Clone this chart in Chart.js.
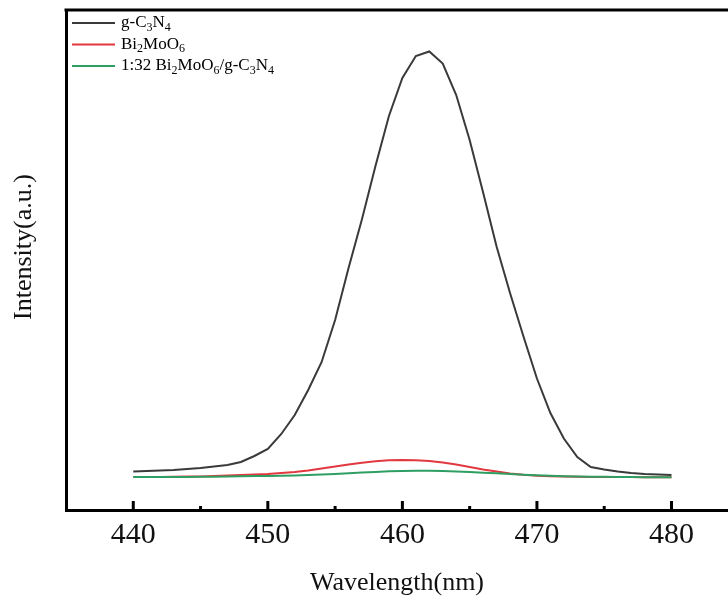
<!DOCTYPE html>
<html>
<head>
<meta charset="utf-8">
<script src="https://cdn.jsdelivr.net/npm/chart.js@4"></script>
<style>
  html, body { margin: 0; padding: 0; background: #fff; overflow: hidden; }
  #wrap { width: 728px; height: 599px; }
</style>
</head>
<body>
<div id="wrap"><canvas id="plChart" width="728" height="599"></canvas></div>
<script>
// --- data (PL emission, arbitrary units) ---
const wavelengths = [440, 441, 442, 443, 444, 445, 446, 447, 448, 449, 450, 451, 452, 453, 454, 455, 456, 457, 458, 459, 460,
                     461, 462, 463, 464, 465, 466, 467, 468, 469, 470, 471, 472, 473, 474, 475, 476, 477, 478, 479, 480];

const gC3N4 = [77, 78, 79, 80, 82, 84, 87, 90, 96, 108, 122, 152, 190, 240, 296, 380, 484, 582, 688, 788, 864,
               908, 917, 893, 830, 740, 635, 527, 434, 347, 263, 194, 143, 106, 86, 81, 77, 74, 72, 71, 70];

const bi2MoO6 = [66, 66, 66, 66.5, 67, 67, 68, 69, 70, 71, 72, 74, 76, 79, 83, 87, 91, 94.6, 97.4, 99.4, 100,
                 99.6, 98, 95, 91, 86, 81, 77, 73, 70.4, 68.4, 67.4, 66.8, 66.4, 66.2, 66, 65.8, 65.8, 65.6, 65.6, 65.6];

const composite = [66, 66, 66, 66, 66.2, 66.4, 66.6, 67, 67.4, 67.8, 68, 68.5, 69, 70, 71, 72, 73.5, 75, 76, 77.5, 78,
                   78.4, 78.4, 78, 77, 76, 74.5, 73.5, 72, 70.5, 69.4, 68.6, 67.6, 67, 66.6, 66.4, 66, 65.8, 65.6, 65.4, 65.4];

const seriesLabels = ['g-C_3N_4', 'Bi_2MoO_6', '1:32 Bi_2MoO_6/g-C_3N_4'];
const seriesColors = ['#3a3a3a', '#e2383f', '#2f9e62'];
const xTicks = [440, 450, 460, 470, 480];

const FONT = '"Liberation Serif", "Times New Roman", serif';

const toPoints = (ys) => wavelengths.map((w, i) => ({ x: w, y: ys[i] }));

// frame line on top, inward ticks on the bottom axis, y title
const framePlugin = {
    id: 'frame',
    afterDraw(chart) {
        const { ctx, chartArea, scales } = chart;
        ctx.save();
        ctx.strokeStyle = '#000';
        ctx.lineWidth = 3;
        ctx.beginPath();
        ctx.moveTo(chartArea.left - 1.5, chartArea.top);
        ctx.lineTo(chartArea.right, chartArea.top);
        ctx.stroke();

        for (let v = 440; v <= 480; v += 5) {
            const px = scales.x.getPixelForValue(v);
            const len = v % 10 === 0 ? 9 : 4;
            ctx.beginPath();
            ctx.moveTo(px, chartArea.bottom);
            ctx.lineTo(px, chartArea.bottom - len);
            ctx.stroke();
        }

        // y axis title sits a little above the middle of the axis
        ctx.translate(24, 247);
        ctx.rotate(-Math.PI / 2);
        ctx.fillStyle = '#111';
        ctx.font = `26px ${FONT}`;
        ctx.textAlign = 'center';
        ctx.textBaseline = 'middle';
        ctx.fillText('Intensity(a.u.)', 0, 0);
        ctx.restore();
    }
};

// legend with real subscripts ("_3" -> small 3)
const drawSubText = (ctx, text, x, y, size) => {
    const parts = text.split(/(_\d)/);
    parts.forEach(p => {
        if (!p) return;
        if (p[0] === '_') {
            ctx.font = `${Math.round(size * 0.68)}px ${FONT}`;
            ctx.fillText(p.slice(1), x, y + size * 0.28);
            x += ctx.measureText(p.slice(1)).width;
        } else {
            ctx.font = `${size}px ${FONT}`;
            ctx.fillText(p, x, y);
            x += ctx.measureText(p).width;
        }
    });
};

const legendPlugin = {
    id: 'subLegend',
    afterDraw(chart) {
        const { ctx } = chart;
        ctx.save();
        ctx.textBaseline = 'middle';
        ctx.fillStyle = '#000';
        chart.data.datasets.forEach((ds, i) => {
            const y = 23 + i * 21.5;
            ctx.strokeStyle = ds.borderColor;
            ctx.lineWidth = 2;
            ctx.beginPath();
            ctx.moveTo(72, y);
            ctx.lineTo(115, y);
            ctx.stroke();
            drawSubText(ctx, ds.label, 121, y, 17);
        });
        ctx.restore();
    }
};

const ctx = document.getElementById('plChart').getContext('2d');
const plChart = new Chart(ctx, {
    type: 'line',
    data: {
        datasets: [
            { label: seriesLabels[0], data: toPoints(gC3N4), borderColor: seriesColors[0], order: 2 },
            { label: seriesLabels[1], data: toPoints(bi2MoO6), borderColor: seriesColors[1], order: 1 },
            { label: seriesLabels[2], data: toPoints(composite), borderColor: seriesColors[2], order: 0 }
        ]
    },
    options: {
        responsive: false,
        animation: false,
        layout: { padding: { top: 10, right: 0, left: 0, bottom: 0 } },
        elements: {
            line: { borderWidth: 2, tension: 0, fill: false },
            point: { radius: 0 }
        },
        plugins: {
            legend: { display: false },
            tooltip: { enabled: false }
        },
        scales: {
            x: {
                type: 'linear',
                min: 435,
                max: 484.2,
                grid: { display: false, drawTicks: false },
                border: { display: true, color: '#000', width: 3 },
                afterBuildTicks: (scale) => { scale.ticks = xTicks.map(v => ({ value: v })); },
                ticks: {
                    color: '#111',
                    padding: 7,
                    maxRotation: 0,
                    font: { family: FONT, size: 30 }
                },
                title: {
                    display: true,
                    text: 'Wavelength(nm)',
                    color: '#111',
                    padding: { top: 0, bottom: 0 },
                    font: { family: FONT, size: 26 }
                },
                afterFit: (scale) => { scale.height = 89; }
            },
            y: {
                min: 0,
                max: 1000,
                grid: { display: false, drawTicks: false },
                border: { display: true, color: '#000', width: 3 },
                ticks: { display: false },
                title: { display: false },
                afterFit: (scale) => { scale.width = 66; }
            }
        }
    },
    plugins: [framePlugin, legendPlugin]
});
</script>
</body>
</html>
